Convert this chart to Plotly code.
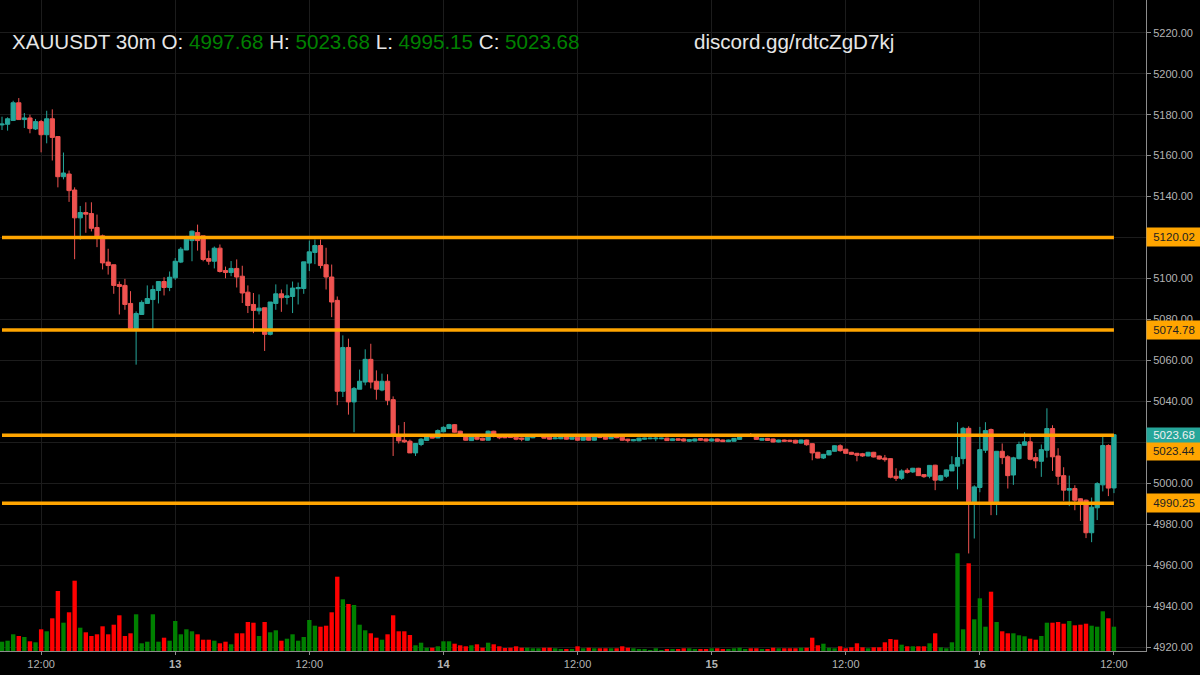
import pandas as pd
import plotly.graph_objects as go

opens = [
    5175.0,5175.3,5177.2,5185.8,5177.6,5178.4,5173.0,5176.6,5170.2,5178.0,
    5169.3,5149.7,5151.0,5143.2,5129.6,5132.2,5131.7,5124.9,5120.8,5108.0,
    5106.7,5097.0,5096.6,5087.8,5075.0,5082.4,5087.8,5089.7,5094.1,5098.5,
    5095.6,5100.3,5108.0,5113.9,5118.5,5122.4,5120.8,5109.7,5108.4,5114.8,
    5103.9,5102.9,5104.9,5101.1,5093.3,5087.3,5084.2,5085.7,5072.7,5087.8,
    5092.5,5090.7,5091.2,5095.0,5095.1,5107.5,5112.7,5116.1,5106.7,5100.7,
    5089.3,5044.9,5066.3,5039.7,5045.9,5049.4,5060.5,5049.8,5045.5,5049.8,
    5040.8,5023.4,5021.0,5020.5,5014.8,5018.9,5020.9,5022.6,5022.1,5025.1,
    5026.7,5028.6,5025.4,5023.1,5020.8,5022.8,5022.0,5021.0,5025.4,5022.8,
    5022.8,5023.0,5022.5,5022.1,5021.0,5022.2,5023.0,5023.1,5022.5,5021.7,
    5021.7,5022.8,5021.5,5022.5,5021.0,5022.8,5021.0,5022.8,5022.8,5021.7,
    5022.8,5022.5,5021.5,5020.7,5020.7,5021.5,5021.7,5021.7,5021.7,5022.0,
    5020.8,5021.7,5021.6,5020.5,5020.6,5021.8,5021.6,5020.6,5021.6,5021.1,
    5020.3,5020.5,5021.4,5022.9,5023.4,5023.0,5021.0,5021.9,5021.6,5020.1,
    5021.1,5021.0,5021.0,5019.6,5021.1,5019.3,5015.1,5012.3,5013.8,5015.6,
    5018.3,5016.6,5015.1,5014.6,5014.4,5013.3,5015.1,5013.3,5012.3,5012.0,
    5003.4,5002.4,5006.3,5005.5,5007.3,5004.2,5003.4,5008.8,5001.5,5003.4,
    5006.0,5008.3,5012.0,5026.8,4990.9,4997.9,5016.1,5026.2,4990.9,5015.6,
    5012.9,5004.0,5012.0,5018.5,5020.2,5012.5,5010.7,5016.1,5026.7,5013.3,
    5003.7,4996.6,4997.4,4992.4,4991.7,4975.8,4988.0,4999.2,5018.4,4997.68,
]
closes = [
    5175.4,5178.0,5185.8,5177.6,5178.4,5173.2,5176.6,5170.2,5178.0,5168.9,
    5149.7,5151.5,5142.9,5129.6,5132.2,5131.4,5124.5,5120.2,5107.6,5106.3,
    5096.6,5096.1,5087.3,5075.6,5082.9,5088.3,5090.2,5094.6,5098.5,5095.6,
    5100.6,5108.4,5114.3,5119.3,5123.1,5118.5,5109.3,5108.4,5114.8,5103.4,
    5102.9,5104.9,5100.7,5092.9,5086.8,5084.4,5085.5,5072.7,5088.5,5092.5,
    5090.6,5091.5,5095.3,5095.6,5108.1,5113.0,5116.1,5106.3,5100.7,5088.5,
    5044.9,5066.3,5039.7,5046.3,5049.8,5060.5,5049.4,5045.9,5049.8,5040.5,
    5023.4,5020.7,5020.2,5014.8,5019.4,5021.5,5022.9,5022.1,5025.7,5027.3,
    5028.6,5024.9,5022.8,5021.0,5022.8,5021.5,5021.0,5025.4,5022.8,5022.2,
    5022.2,5022.3,5021.5,5021.5,5022.5,5023.1,5023.3,5022.0,5021.5,5022.1,
    5022.5,5021.5,5022.5,5021.0,5022.8,5021.0,5022.8,5022.3,5021.5,5022.8,
    5022.2,5021.0,5020.8,5021.3,5022.0,5022.0,5022.0,5022.0,5022.0,5020.8,
    5021.7,5021.0,5020.6,5021.3,5021.6,5021.0,5020.6,5021.6,5020.5,5020.3,
    5021.1,5021.9,5022.9,5023.1,5023.1,5021.4,5021.9,5020.9,5020.1,5021.1,
    5020.5,5020.5,5019.6,5021.1,5018.8,5014.8,5012.3,5014.1,5015.9,5018.3,
    5015.9,5014.6,5014.1,5013.6,5013.3,5015.1,5012.8,5011.8,5011.5,5002.9,
    5002.4,5006.0,5005.3,5007.3,5003.7,5003.2,5008.7,5001.5,5003.7,5006.5,
    5009.0,5012.5,5026.8,4990.9,4998.2,5016.4,5025.7,4990.9,5015.6,5012.5,
    5003.7,5012.4,5018.9,5020.2,5011.7,5010.9,5016.4,5026.7,5012.9,5003.4,
    4996.6,4997.4,4991.7,4990.9,4975.8,4988.3,4999.8,5018.4,4997.6,5023.68,
]
highs = [
    5179.0,5178.7,5186.8,5188.1,5180.8,5180.0,5177.9,5177.4,5181.9,5182.6,
    5169.5,5161.5,5152.7,5144.5,5135.4,5137.2,5137.2,5131.2,5121.4,5114.5,
    5106.7,5098.5,5099.8,5093.8,5083.9,5089.3,5096.6,5096.6,5098.5,5100.6,
    5103.4,5110.0,5115.3,5120.8,5123.4,5126.3,5120.8,5113.6,5115.6,5116.6,
    5105.8,5108.5,5109.3,5106.2,5096.6,5092.9,5092.2,5085.7,5088.5,5097.1,
    5094.6,5097.1,5098.5,5098.0,5108.1,5118.5,5119.0,5119.0,5115.0,5106.8,
    5091.2,5072.2,5070.6,5047.0,5055.5,5065.4,5068.1,5055.1,5053.5,5053.2,
    5042.4,5028.3,5029.9,5021.3,5019.4,5022.0,5023.4,5023.4,5026.3,5027.8,
    5029.0,5028.9,5025.6,5023.3,5023.0,5023.0,5022.2,5025.7,5025.6,5023.0,
    5023.0,5023.4,5022.7,5022.3,5022.7,5023.3,5023.5,5023.3,5022.7,5022.8,
    5022.7,5023.0,5022.7,5022.7,5023.0,5023.0,5023.0,5023.5,5023.0,5023.0,
    5023.0,5022.7,5021.7,5021.5,5022.2,5022.2,5022.2,5022.8,5022.2,5022.2,
    5021.9,5021.9,5021.9,5021.6,5021.8,5022.0,5021.8,5021.8,5021.8,5021.3,
    5021.3,5022.1,5023.1,5023.3,5024.5,5023.2,5022.1,5022.1,5021.8,5021.3,
    5021.3,5021.2,5021.2,5021.3,5021.3,5019.5,5015.3,5014.3,5016.1,5018.5,
    5019.0,5016.8,5015.3,5014.8,5014.8,5015.3,5015.3,5013.5,5013.8,5012.2,
    5007.3,5006.8,5007.3,5007.5,5007.5,5004.4,5008.9,5009.0,5004.1,5006.7,
    5013.2,5029.8,5027.5,5027.8,4999.0,5027.5,5029.8,5026.7,5015.6,5019.4,
    5013.7,5012.9,5020.3,5024.9,5022.9,5014.8,5018.9,5036.6,5028.3,5017.1,
    5007.8,5003.7,4999.0,4992.6,4992.0,4993.0,5000.5,5022.9,5019.0,5023.68,
]
lows = [
    5172.5,5172.2,5177.0,5177.5,5173.5,5170.9,5172.5,5161.6,5166.0,5157.6,
    5144.5,5148.4,5137.4,5109.4,5118.9,5122.3,5123.0,5115.3,5104.4,5101.9,
    5092.5,5082.4,5084.7,5075.5,5057.9,5082.4,5087.8,5074.6,5087.8,5091.7,
    5093.8,5099.3,5107.5,5113.9,5108.4,5113.6,5108.4,5106.7,5104.9,5102.9,
    5100.1,5101.1,5095.6,5088.0,5083.1,5073.3,5082.4,5064.6,5072.2,5084.7,
    5083.7,5087.3,5083.1,5087.3,5092.5,5103.6,5107.0,5104.9,5094.6,5081.1,
    5038.1,5042.1,5033.5,5024.9,5045.9,5047.8,5046.3,5040.8,5044.9,5038.1,
    5013.3,5019.4,5019.7,5014.8,5013.3,5018.1,5020.7,5022.0,5022.0,5024.9,
    5026.5,5024.7,5022.6,5020.8,5020.6,5021.0,5020.8,5020.8,5022.4,5021.5,
    5022.0,5022.1,5021.0,5020.5,5020.8,5022.0,5022.8,5021.8,5021.3,5021.5,
    5021.5,5021.3,5021.3,5020.8,5020.8,5020.8,5020.8,5022.0,5021.3,5021.5,
    5022.0,5020.8,5019.9,5020.5,5020.5,5021.3,5021.5,5020.5,5021.5,5020.6,
    5020.6,5020.8,5020.4,5020.1,5020.4,5020.8,5020.4,5020.4,5020.3,5020.1,
    5020.1,5020.3,5021.2,5022.7,5022.9,5021.2,5020.8,5020.6,5019.9,5019.9,
    5020.3,5020.3,5019.4,5019.4,5018.3,5011.2,5012.1,5011.8,5013.6,5015.4,
    5015.4,5014.4,5013.9,5010.7,5012.9,5013.1,5012.6,5011.5,5010.5,5002.4,
    5001.1,5001.6,5004.7,5005.0,5003.5,5002.6,5002.4,4996.6,5001.0,5002.6,
    5006.0,4997.0,5009.3,4965.7,4973.0,4995.6,5014.8,4984.4,4984.4,5009.3,
    4997.4,4999.2,5011.6,5018.5,5011.2,5007.3,5003.1,5012.5,5006.0,4999.2,
    4991.4,4988.8,4986.8,4981.6,4973.2,4971.2,4982.0,4996.0,4993.7,4995.15,
]
volumes = [
    9.3,10.3,16.7,15.0,14.0,9.7,8.7,21.7,19.7,32.7,
    60.0,28.3,38.7,70.3,23.3,18.7,15.0,16.7,24.7,16.7,
    26.3,35.7,15.0,17.7,36.7,7.7,9.3,36.7,9.3,13.3,
    10.3,30.0,16.7,21.7,19.7,16.7,11.3,11.3,10.3,7.7,
    9.3,6.7,17.7,17.7,29.0,28.3,15.0,29.0,18.7,20.7,
    10.3,12.3,16.7,10.3,14.0,31.0,25.3,24.3,25.3,38.7,
    74.3,51.7,47.0,46.0,26.3,20.7,17.7,13.3,11.3,16.7,
    35.7,19.7,19.7,16.0,5.7,8.3,3.3,3.3,4.7,9.7,
    9.7,7.3,5.7,4.7,5.7,6.7,3.3,8.3,6.7,4.7,
    3.0,3.3,4.7,3.3,3.3,2.7,2.7,3.3,3.3,2.7,
    1.7,1.7,1.7,4.7,2.7,3.3,2.7,2.7,2.7,2.7,
    2.7,4.7,3.3,2.7,1.7,1.7,1.0,2.7,0.7,1.7,
    1.7,1.7,2.7,2.7,1.7,1.7,1.7,2.7,2.7,1.7,
    1.7,2.7,3.3,1.7,2.7,2.7,1.7,1.7,3.3,2.7,
    2.7,2.7,2.7,3.3,3.3,13.3,5.7,7.3,3.3,2.7,
    4.7,2.7,3.7,7.7,3.7,2.7,3.7,3.7,8.7,12.0,
    11.3,6.3,4.7,4.7,4.7,4.7,7.7,17.7,3.7,2.7,
    8.7,97.7,21.7,87.7,31.7,52.7,24.3,59.3,29.0,19.7,
    17.7,17.7,15.7,14.7,12.3,11.3,15.0,28.3,28.3,29.0,
    27.3,30.0,25.7,26.3,27.3,25.3,24.3,39.7,32.7,24.3,
]
levels = [5120.02, 5074.78, 5023.44, 4990.25]
last_open, last_high, last_low, last_close = 4997.68, 5023.68, 4995.15, 5023.68
symbol = "XAUUSDT 30m"
link = "discord.gg/rdtcZgD7kj"

times = pd.date_range("2026-03-12 08:30", periods=len(opens), freq="30min")

tick_times = ["2026-03-12 12:00", "2026-03-13 00:00", "2026-03-13 12:00", "2026-03-14 00:00",
              "2026-03-14 12:00", "2026-03-15 00:00", "2026-03-15 12:00", "2026-03-16 00:00",
              "2026-03-16 12:00"]
tick_text = ["12:00", "<b>13</b>", "12:00", "<b>14</b>", "12:00", "<b>15</b>", "12:00", "<b>16</b>", "12:00"]

price_ticks = [4920, 4940, 4960, 4980, 5000, 5020, 5040, 5060, 5080, 5100,
               5120, 5140, 5160, 5180, 5200, 5220]
# 5020.00 sits under the last price labels, so it gets no text
price_labels = ["" if p == 5020 else f"{p:.2f}" for p in price_ticks]

TEAL = "#26a69a"
RED = "#ef5350"
ORANGE = "#ffa500"
GRID = "#1c1c1c"
TEXT = "#b4b4b4"
FONT = "Liberation Sans"

fig = go.Figure()

fig.add_trace(go.Bar(
    x=times, y=volumes, yaxis="y2", width=1000 * 60 * 30 * 0.78,
    marker_color=["#008000" if c >= o else "#ff0000" for o, c in zip(opens, closes)],
    marker_line_width=0, hoverinfo="skip",
))
fig.add_trace(go.Candlestick(
    x=times, open=opens, high=highs, low=lows, close=closes,
    increasing=dict(line=dict(color=TEAL, width=1), fillcolor=TEAL),
    decreasing=dict(line=dict(color=RED, width=1), fillcolor=RED),
    whiskerwidth=0,
))
for lvl in levels:
    fig.add_trace(go.Scatter(
        x=[times[0], times[-1]], y=[lvl, lvl], mode="lines",
        line=dict(color=ORANGE, width=3.5), hoverinfo="skip",
    ))

annotations = []
for lvl in levels:
    annotations.append(dict(
        xref="paper", yref="y", x=1, y=lvl, xanchor="left", yanchor="middle",
        text=f"{lvl:.2f}", showarrow=False, bgcolor=ORANGE, width=52, height=16,
        borderpad=1, yshift=-16 if lvl == 5023.44 else 0,
        font=dict(family=FONT, size=11.5, color="#222222"),
    ))
annotations.append(dict(
    xref="paper", yref="y", x=1, y=last_close, xanchor="left", yanchor="middle",
    text=f"{last_close:.2f}", showarrow=False, bgcolor=TEAL, width=52, height=12,
    borderpad=1, font=dict(family=FONT, size=11.5, color="#f0f0f0"),
))

def green(v):
    return f'<span style="color:#008000">{v:.2f}</span>'

header = (f"{symbol} O: {green(last_open)} H: {green(last_high)} "
          f"L: {green(last_low)} C: {green(last_close)}")
annotations.append(dict(
    xref="paper", yref="paper", x=10 / 1146, y=1 - 42 / 651, xanchor="left", yanchor="middle",
    text=header, showarrow=False, font=dict(family=FONT, size=20.6, color="#e6e6e6"),
))
annotations.append(dict(
    xref="paper", yref="paper", x=692 / 1146, y=1 - 42 / 651, xanchor="left", yanchor="middle",
    text=link, showarrow=False, font=dict(family=FONT, size=20.6, color="#e6e6e6"),
))

fig.update_layout(
    width=1200, height=675,
    margin=dict(l=0, r=54, t=0, b=24),
    paper_bgcolor="#000000", plot_bgcolor="#000000",
    showlegend=False, boxgap=0, boxgroupgap=0.24,
    annotations=annotations,
    font=dict(family=FONT, size=11, color=TEXT),
    xaxis=dict(
        type="date",
        range=["2026-03-12 08:19:15", "2026-03-16 14:52:00"],
        rangeslider_visible=False,
        tickmode="array", tickvals=tick_times, ticktext=tick_text,
        showgrid=True, gridcolor=GRID, gridwidth=1,
        showline=True, linecolor="#8c8c8c", linewidth=1,
        ticks="outside", ticklen=3, tickcolor="#8c8c8c",
        tickfont=dict(family=FONT, size=11, color=TEXT),
        zeroline=False,
    ),
    yaxis=dict(
        side="right",
        range=[4918.05, 5236.0],
        tickmode="array", tickvals=price_ticks, ticktext=price_labels,
        showgrid=True, gridcolor=GRID, gridwidth=1,
        showline=True, linecolor="#8c8c8c", linewidth=1,
        ticks="outside", ticklen=4, tickcolor="#8c8c8c",
        tickfont=dict(family=FONT, size=11, color=TEXT),
        zeroline=False,
    ),
    yaxis2=dict(
        overlaying="y", side="left", range=[0, 651],
        visible=False,
    ),
)

fig.write_html("out.html", config=dict(displayModeBar=False),
               post_script="document.body.style.margin='0';document.body.style.background='#000';")
